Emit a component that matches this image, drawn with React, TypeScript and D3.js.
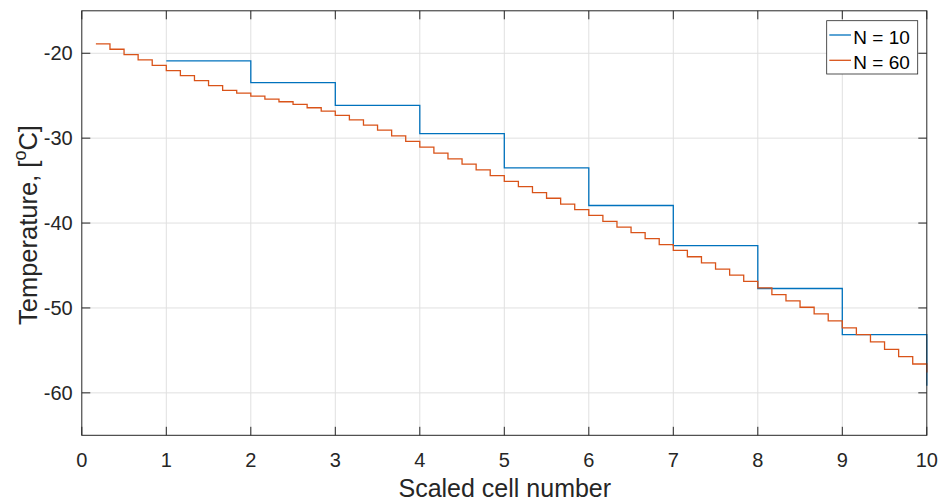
import React from "react";
import * as d3 from "d3";

const xTicks = [0, 1, 2, 3, 4, 5, 6, 7, 8, 9, 10];
const yTicks = [-60, -50, -40, -30, -20];

// N = 10 : cell positions and temperatures
const x10 = [1, 2, 3, 4, 5, 6, 7, 8, 9, 10];
const t10 = [-20.9, -23.47, -26.13, -29.47, -33.5, -37.93, -42.65, -47.71, -53.15, -59.16];

// N = 60 : cell index (scaled x = k/6) and temperatures
const k60 = [
  1, 2, 3, 4, 5, 6, 7, 8, 9, 10, 11, 12, 13, 14, 15, 16, 17, 18, 19, 20,
  21, 22, 23, 24, 25, 26, 27, 28, 29, 30, 31, 32, 33, 34, 35, 36, 37, 38, 39, 40,
  41, 42, 43, 44, 45, 46, 47, 48, 49, 50, 51, 52, 53, 54, 55, 56, 57, 58, 59, 60,
];
const t60 = [
  -18.9, -19.53, -20.16, -20.79, -21.42, -22.05, -22.64, -23.23, -23.82, -24.37,
  -24.69, -25.05, -25.4, -25.71, -26.02, -26.42, -26.81, -27.32, -27.84, -28.46,
  -29.06, -29.73, -30.39, -31.06, -31.77, -32.44, -33.07, -33.74, -34.41, -35.08,
  -35.72, -36.41, -37.08, -37.76, -38.42, -39.09, -39.8, -40.47, -41.13, -41.84,
  -42.53, -43.22, -43.97, -44.68, -45.43, -46.14, -46.88, -47.63, -48.42, -49.16,
  -49.92, -50.7, -51.52, -52.35, -53.14, -54.0, -54.88, -55.74, -56.6, -57.6,
];

const seriesNames = ["N = 10", "N = 60"];
const colors = ["#0072BD", "#D95319"];

const W = 940;
const H = 502;
const left = 81.8;
const right = 926.8;
const top = 10.8;
const bottom = 435.3;
const FONT = "'Liberation Sans', Arial, Helvetica, sans-serif";
const AX = "#262626";
const GRID = "#e0e0e0";
const TL = 8.5;

export default function App() {
  const x = d3.scaleLinear().domain([0, 10]).range([left, right]);
  const y = d3.scaleLinear().domain([-65, -15]).range([bottom, top]);

  const line = d3
    .line<[number, number]>()
    .x((d) => x(d[0]))
    .y((d) => y(d[1]))
    .curve(d3.curveStepAfter);

  const d10 = line(x10.map((v, i) => [v, t10[i]] as [number, number])) || "";
  const d60 = line(k60.map((k, i) => [k / 6, t60[i]] as [number, number])) || "";

  const lx = 826.7;
  const ly = 20.7;

  return (
    <svg
      width={W}
      height={H}
      style={{ position: "absolute", left: 0, top: 0, display: "block", background: "#fff" }}
      fontFamily={FONT}
    >
      <rect x={0} y={0} width={W} height={H} fill="#fff" />
      {/* grid */}
      {xTicks.slice(1, -1).map((t) => (
        <line key={"gx" + t} x1={x(t)} x2={x(t)} y1={top} y2={bottom} stroke={GRID} strokeWidth={1} />
      ))}
      {yTicks.map((t) => (
        <line key={"gy" + t} x1={left} x2={right} y1={y(t)} y2={y(t)} stroke={GRID} strokeWidth={1} />
      ))}

      {/* data */}
      <path d={d10} fill="none" stroke={colors[0]} strokeWidth={1.3} />
      <path d={d60} fill="none" stroke={colors[1]} strokeWidth={1.3} />

      {/* axes box */}
      <rect x={left} y={top} width={right - left} height={bottom - top} fill="none" stroke={AX} strokeWidth={1} />
      {xTicks.map((t) => (
        <g key={"tx" + t}>
          <line x1={x(t)} x2={x(t)} y1={bottom} y2={bottom - TL} stroke={AX} strokeWidth={1} />
          <line x1={x(t)} x2={x(t)} y1={top} y2={top + TL} stroke={AX} strokeWidth={1} />
          <text x={x(t)} y={466.7} textAnchor="middle" fontSize={20} fill={AX}>
            {t}
          </text>
        </g>
      ))}
      {yTicks.map((t) => (
        <g key={"ty" + t}>
          <line x1={left} x2={left + TL} y1={y(t)} y2={y(t)} stroke={AX} strokeWidth={1} />
          <line x1={right} x2={right - TL} y1={y(t)} y2={y(t)} stroke={AX} strokeWidth={1} />
          <text x={72.7} y={y(t) + 7} textAnchor="end" fontSize={20} fill={AX}>
            {t}
          </text>
        </g>
      ))}

      {/* axis labels */}
      <text x={(left + right) / 2 + 0.5} y={497} textAnchor="middle" fontSize={25} fill={AX}>
        Scaled cell number
      </text>
      <text
        transform={`translate(36.5,${(top + bottom) / 2 + 2}) rotate(-90)`}
        textAnchor="middle"
        fontSize={25.5}
        fill={AX}
      >
        Temperature, [
        <tspan fontSize={18} dy={-10.5}>o</tspan>
        <tspan dy={10.5}>C]</tspan>
      </text>

      {/* legend */}
      <rect x={lx} y={ly} width={91} height={53.3} fill="#fff" stroke={AX} strokeWidth={0.8} />
      {seriesNames.map((n, i) => (
        <g key={n}>
          <line x1={829.3} x2={851} y1={35 + i * 25.3} y2={35 + i * 25.3} stroke={colors[i]} strokeWidth={1.3} />
          <text x={853.3} y={44 + i * 24.7} fontSize={19} fill="#000">
            {n}
          </text>
        </g>
      ))}
    </svg>
  );
}
